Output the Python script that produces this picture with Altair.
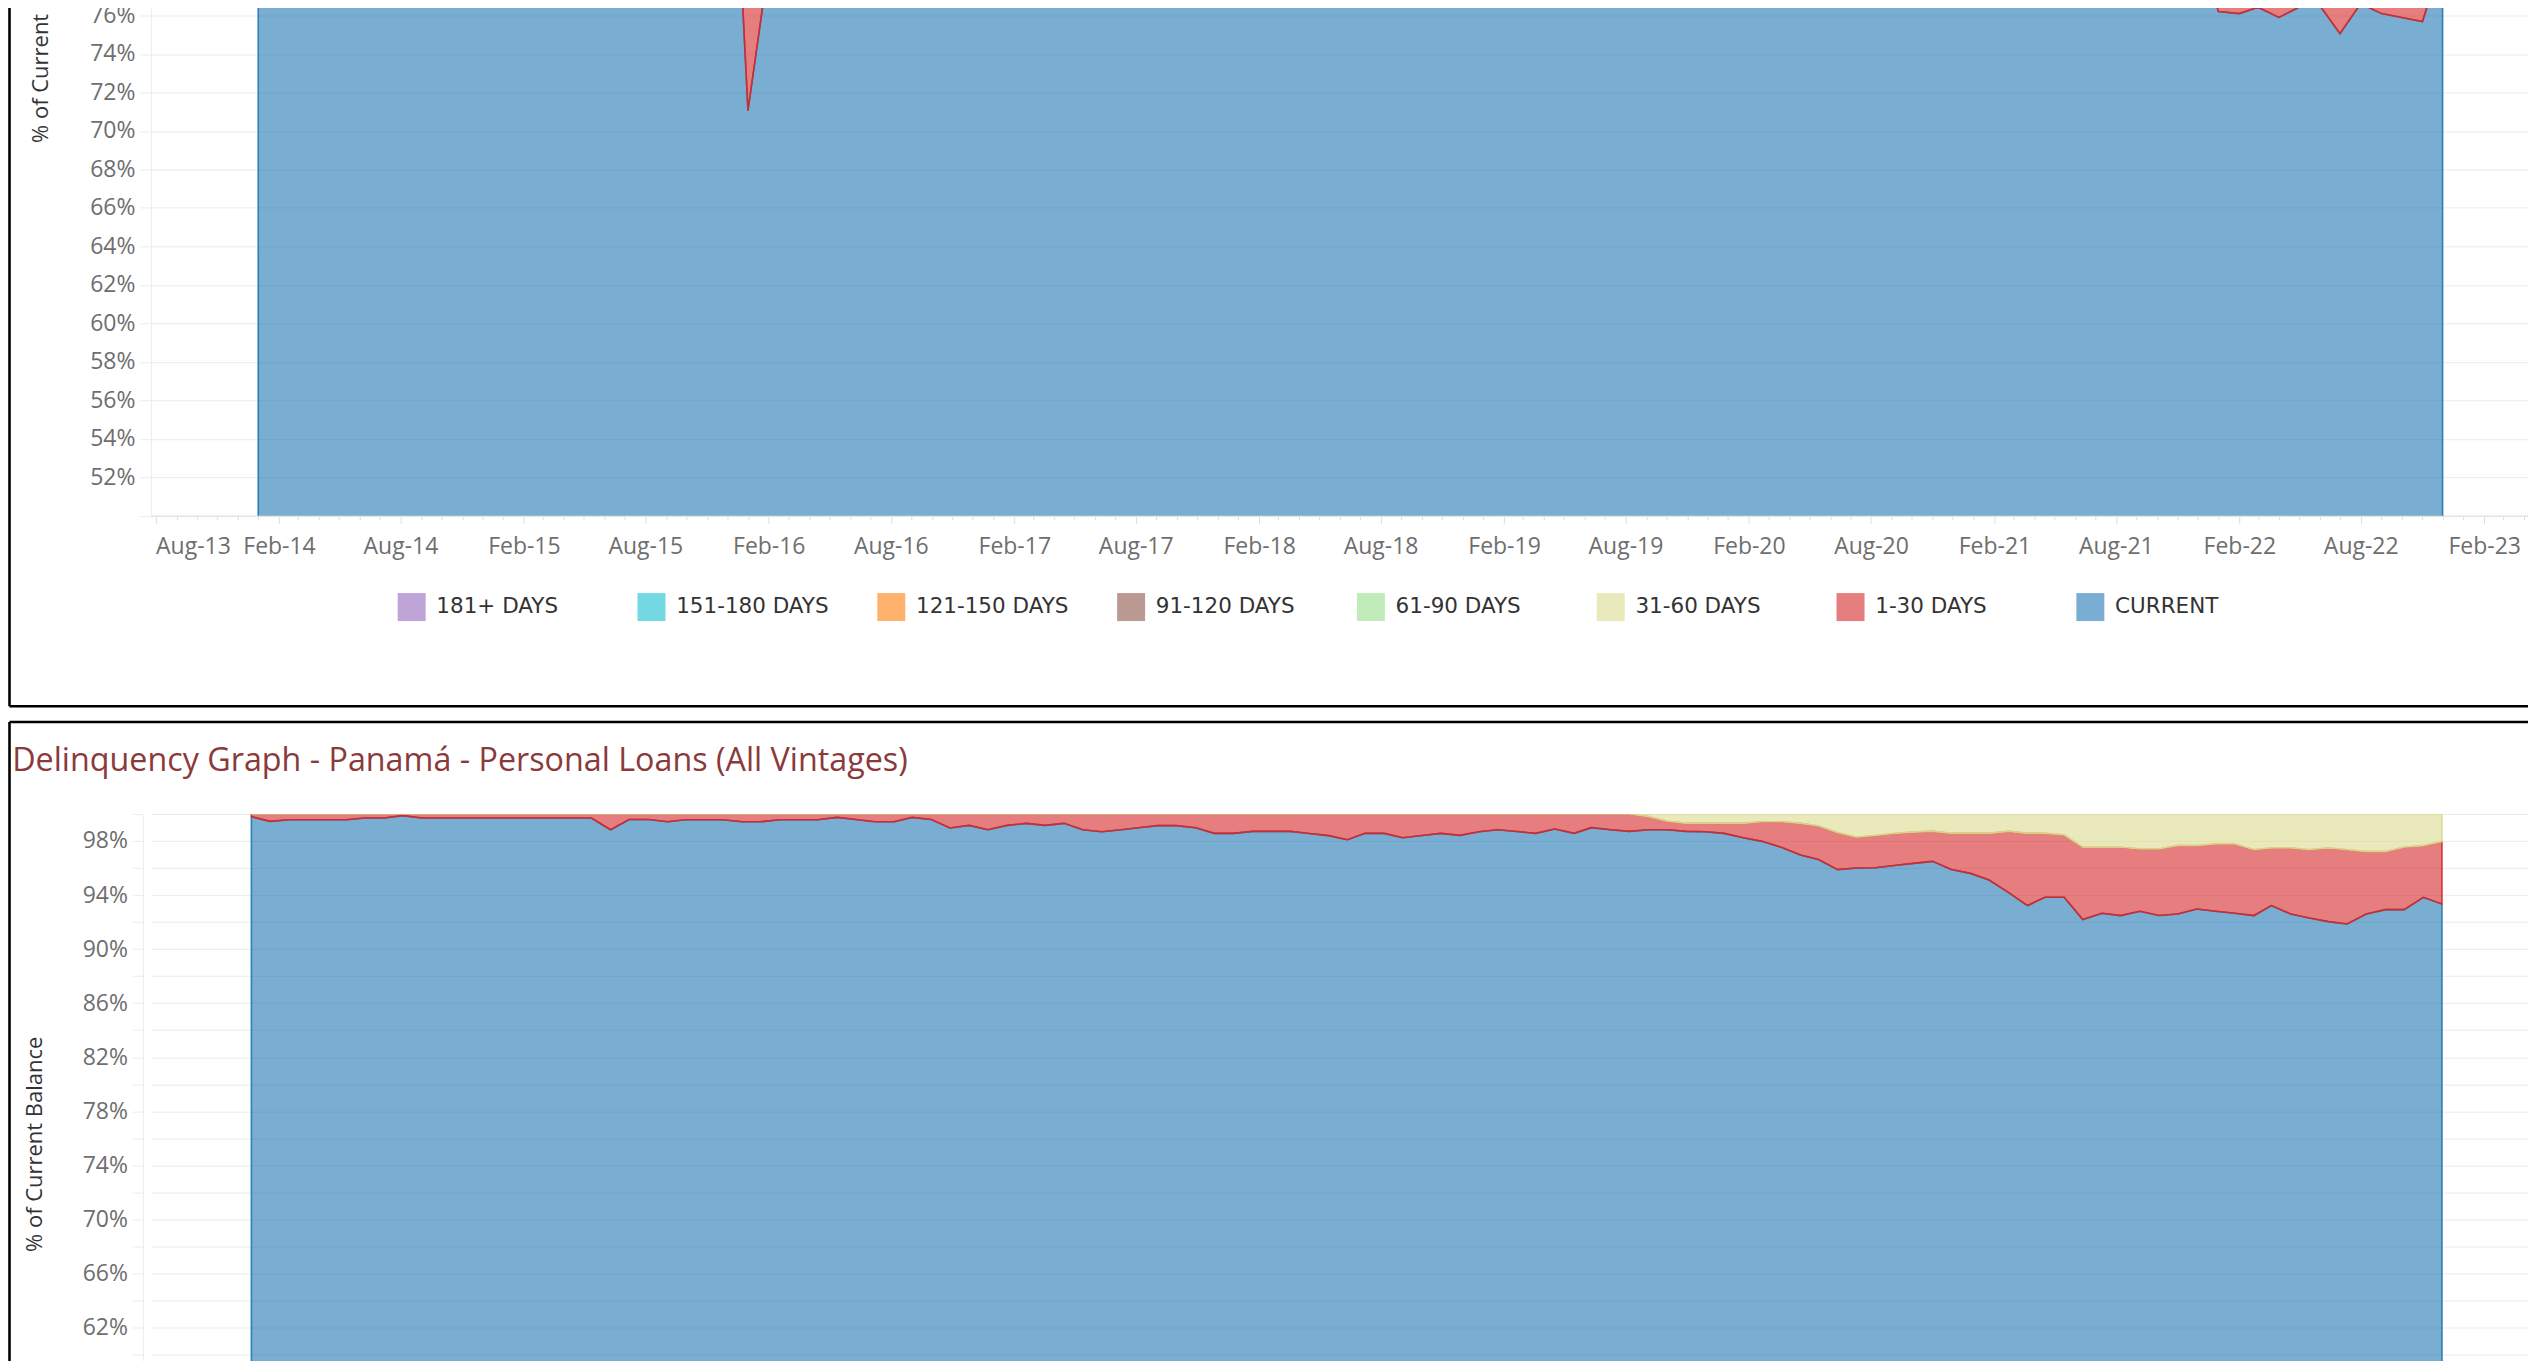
import altair as alt
import pandas as pd

# ---------------- data ----------------
SERIES = ["181+ DAYS", "151-180 DAYS", "121-150 DAYS", "91-120 DAYS",
          "61-90 DAYS", "31-60 DAYS", "1-30 DAYS", "CURRENT"]
COLORS = ["#9467bd", "#17becf", "#ff7f0e", "#8c564b",
          "#98df8a", "#dbdb8d", "#d62728", "#1f77b4"]

TITLE = "Delinquency Graph - Panamá - Personal Loans (All Vintages)"
Y_TITLE = "% of Current Balance"

# upper panel: monthly Jan-2014 .. Dec-2022 (values above ~77% are off-screen, estimated)
TOP_FIRST_MONTH = "2014-01-01"
top_current = [
    96.5, 96.8, 96.2, 96.9, 97.1, 96.7, 96.4, 96.8, 96.3, 95.9, 96.2, 95.8,
    95.5, 95.9, 95.2, 94.8, 95.1, 94.6, 94.2, 94.7, 93.9, 93.5, 93.1, 92.7,
    71.05, 78.7, 86.5, 88.2, 89.0, 89.4, 88.7, 89.1, 88.5, 88.0, 88.3, 87.6,
    87.9, 87.2, 86.8, 87.3, 86.9, 86.4, 86.8, 86.1, 85.7, 86.0, 85.4, 85.8,
    85.1, 84.8, 85.2, 84.5, 84.9, 84.2, 84.6, 84.0, 83.7, 84.1, 83.5, 83.9,
    83.2, 83.6, 82.9, 83.3, 82.7, 83.0, 82.4, 82.8, 82.1, 82.5, 81.9, 82.3,
    81.7, 82.0, 81.4, 80.9, 81.3, 80.8, 81.1, 80.5, 80.9, 80.3, 80.6, 80.1,
    80.4, 79.9, 80.2, 79.7, 80.0, 79.5, 79.8, 79.3, 79.6, 79.1, 79.5, 79.4,
    76.21, 76.10, 76.43, 75.90, 76.43, 76.52, 75.06, 76.62, 76.10, 75.90, 75.69, 79.0,
]
top_upper_1_30 = [
    98.8, 99.0, 98.7, 99.1, 99.2, 98.9, 98.7, 99.0, 98.6, 98.4, 98.6, 98.3,
    98.2, 98.4, 98.0, 97.8, 98.0, 97.7, 97.5, 97.8, 97.3, 97.1, 96.9, 96.6,
    95.8, 94.9, 95.6, 96.0, 96.2, 96.3, 95.9, 96.1, 95.8, 95.5, 95.7, 95.3,
    95.4, 95.0, 94.8, 95.1, 94.9, 94.6, 94.8, 94.4, 94.2, 94.4, 94.0, 94.3,
    93.9, 93.7, 94.0, 93.6, 93.8, 93.4, 93.6, 93.2, 93.0, 93.3, 92.9, 93.1,
    92.7, 93.0, 92.5, 92.8, 92.4, 92.6, 92.2, 92.5, 92.0, 92.3, 91.8, 92.1,
    91.6, 91.9, 91.4, 91.0, 91.3, 90.9, 91.1, 90.7, 91.0, 90.5, 90.8, 90.4,
    90.6, 90.2, 90.4, 90.0, 90.3, 89.8, 90.1, 89.7, 89.9, 89.5, 89.8, 89.6,
    88.4, 88.2, 88.6, 88.0, 88.5, 88.7, 87.5, 88.8, 88.3, 88.1, 87.9, 90.2,
]

# lower panel: Panamá personal loans, monthly points
BOTTOM_FIRST_MONTH = "2013-04-01"
bottom_current = [
    99.79, 99.45, 99.57, 99.57, 99.57, 99.57, 99.70, 99.70, 99.87, 99.70,
    99.70, 99.70, 99.70, 99.70, 99.70, 99.70, 99.70, 99.70, 99.70, 98.83,
    99.59, 99.59, 99.42, 99.57, 99.57, 99.57, 99.42, 99.42, 99.57, 99.57,
    99.57, 99.74, 99.59, 99.42, 99.42, 99.74, 99.59, 98.96, 99.15, 98.83,
    99.15, 99.30, 99.15, 99.30, 98.83, 98.68, 98.83, 98.98, 99.13, 99.13,
    98.98, 98.56, 98.56, 98.71, 98.71, 98.71, 98.55, 98.39, 98.09, 98.56,
    98.56, 98.24, 98.40, 98.56, 98.41, 98.68, 98.83, 98.70, 98.56, 98.88,
    98.56, 98.98, 98.83, 98.71, 98.83, 98.83, 98.71, 98.68, 98.56, 98.24,
    97.97, 97.53, 96.96, 96.62, 95.88, 96.00, 96.02, 96.18, 96.34, 96.49,
    95.88, 95.60, 95.11, 94.20, 93.22, 93.83, 93.83, 92.18, 92.65, 92.48,
    92.80, 92.48, 92.60, 92.97, 92.80, 92.65, 92.48, 93.22, 92.60, 92.30,
    92.03, 91.86, 92.60, 92.92, 92.92, 93.83, 93.34,
]
bottom_upper_1_30 = [100.0] * 74 + [
    99.80, 99.45, 99.30, 99.30, 99.30, 99.30, 99.42, 99.42, 99.30, 99.10,
    98.60, 98.27, 98.40, 98.55, 98.65, 98.71, 98.56, 98.56, 98.56, 98.71,
    98.56, 98.56, 98.44, 97.53, 97.53, 97.53, 97.40, 97.40, 97.65, 97.65,
    97.77, 97.77, 97.35, 97.48, 97.48, 97.35, 97.48, 97.35, 97.21, 97.21,
    97.53, 97.65, 97.95,
]

DRAW_ORDER = ["CURRENT", "1-30 DAYS", "31-60 DAYS"]


def band_frame(first, current, upper):
    dates = pd.date_range(first, periods=len(current), freq="MS").strftime("%Y-%m-%d")
    rows = []
    for d, c, u in zip(dates, current, upper):
        rows.append({"date": d, "series": "CURRENT", "lo": 0.0, "hi": c})
        rows.append({"date": d, "series": "1-30 DAYS", "lo": c, "hi": u})
        rows.append({"date": d, "series": "31-60 DAYS", "lo": u, "hi": 100.0})
    return pd.DataFrame(rows)


top_df = band_frame(TOP_FIRST_MONTH, top_current, top_upper_1_30)
bottom_df = band_frame(BOTTOM_FIRST_MONTH, bottom_current, bottom_upper_1_30)

# ---------------- style ----------------
LABEL_FONT = "Open Sans"
LABEL_COLOR = "#6e6e6e"
GRID = "#ebebeb"
W = 2409
TOP_H = 962.5
BOT_H = 660.3
BORDER_X = -141.5

color_scale = alt.Scale(domain=SERIES, range=COLORS)

legend = alt.Legend(
    orient="none", legendX=247, legendY=1040, direction="horizontal", columns=8,
    gridAlign="all", columnPadding=48, symbolType="square", symbolSize=784,
    symbolOpacity=0.6, symbolStrokeWidth=0, labelFont="DejaVu Sans",
    labelFontSize=21.5, labelColor="#333333", labelOffset=10.7, labelLimit=400,
    padding=0,
)

top_x_axis = alt.Axis(
    tickCount={"interval": "month", "step": 1},
    labelExpr="(utcmonth(datum.value) == 1 || utcmonth(datum.value) == 7) ? utcFormat(datum.value, '%b-%y') : ''",
    tickSize={"condition": {"test": "utcmonth(datum.value) == 1 || utcmonth(datum.value) == 7", "value": 8}, "value": 4},
    tickColor="#dddddd", tickWidth=1, domainColor="#e4e4e4", domainWidth=1.5,
    labelFont=LABEL_FONT, labelFontSize=23, labelColor=LABEL_COLOR,
    labelPadding=12, labelFlush=10, labelOverlap=False, grid=False, title=None,
)

top_y_axis = alt.Axis(
    values=list(range(50, 101, 2)),
    labelExpr="datum.value == 50 ? '' : datum.value + '%'",
    grid=True, gridColor=GRID, gridWidth=1,
    domainColor="#ececec", domainWidth=1,
    tickSize=11, tickColor=GRID, tickWidth=1,
    labelPadding=5, labelFont=LABEL_FONT, labelFontSize=23, labelColor=LABEL_COLOR,
    titleFont=LABEL_FONT, titleFontSize=22, titleColor="#333333",
    titleFontWeight="normal", titleX=-103, titleBaseline="alphabetic",
)

bottom_y_axis = alt.Axis(
    values=list(range(52, 101, 2)),
    labelExpr="datum.value % 4 == 2 ? datum.value + '%' : ''",
    grid=True, gridColor=GRID, gridWidth=1, offset=8,
    domainColor="#ececec", domainWidth=1,
    tickSize=10.5, tickColor=GRID, tickWidth=1,
    labelPadding=5, labelFont=LABEL_FONT, labelFontSize=23, labelColor=LABEL_COLOR,
    titleFont=LABEL_FONT, titleFontSize=22, titleColor="#333333",
    titleFontWeight="normal", titleX=-101, titleBaseline="alphabetic",
)

top_x = alt.X(
    "date:T", axis=top_x_axis,
    scale=alt.Scale(type="utc", domain=[
        alt.DateTime(year=2013, month=7, date=25, utc=True),
        alt.DateTime(year=2023, month=5, date=22, utc=True)]),
)
bottom_x = alt.X(
    "date:T", axis=None,
    scale=alt.Scale(type="utc", domain=[
        alt.DateTime(year=2012, month=10, date=21, utc=True),
        alt.DateTime(year=2023, month=6, date=6, utc=True)]),
)
top_y = alt.Y("hi:Q", title=Y_TITLE, axis=top_y_axis,
              scale=alt.Scale(domain=[50, 100], nice=False, zero=False))
bottom_y = alt.Y("hi:Q", title=Y_TITLE, axis=bottom_y_axis,
                 scale=alt.Scale(domain=[51.2, 100], nice=False, zero=False))


def area_layers(x_enc, y_enc, show_legend):
    layers = []
    for i, s in enumerate(DRAW_ORDER):
        if show_legend and i == 0:
            col = alt.Color("series:N", scale=color_scale, legend=legend, title=None)
        elif show_legend:
            col = alt.Color("series:N", scale=color_scale, title=None)
        else:
            col = alt.Color("series:N", scale=color_scale, legend=None)
        layers.append(
            alt.Chart()
            .transform_filter(alt.datum.series == s)
            .mark_area(fillOpacity=0.6, strokeWidth=1.6, strokeOpacity=0.9,
                       clip=True, interpolate="linear")
            .encode(
                x=x_enc, y=y_enc, y2="lo:Q", color=col,
                stroke=alt.Stroke("series:N", scale=color_scale, legend=None),
            )
        )
    return layers


dummy = alt.Data(values=[{"k": 1}])


def rule(**enc):
    return alt.Chart(dummy).mark_rule(color="#000000", strokeWidth=2.6).encode(**enc)


top = alt.layer(
    *area_layers(top_x, top_y, True),
    rule(x=alt.value(BORDER_X), y=alt.value(-30), y2=alt.value(1153.3)),
    rule(x=alt.value(BORDER_X), x2=alt.value(W), y=alt.value(1153.3)),
    data=top_df,
).properties(width=W, height=TOP_H)

bottom = alt.layer(
    *area_layers(bottom_x, bottom_y, False),
    rule(x=alt.value(BORDER_X), y=alt.value(-91.9), y2=alt.value(700)),
    rule(x=alt.value(BORDER_X), x2=alt.value(W), y=alt.value(-91.9)),
    data=bottom_df,
).properties(
    width=W, height=BOT_H,
    title=alt.TitleParams(
        TITLE, anchor="start", frame="bounds", font="Open Sans", fontSize=32.3,
        color="#8a3a3a", fontWeight="normal", baseline="alphabetic",
        offset=0, dx=4, dy=82.4,
    ),
)

chart = (
    alt.vconcat(top, bottom, spacing=12)
    .resolve_scale(x="independent", y="independent", color="independent", stroke="independent")
    .properties(padding={"top": -487, "left": 0, "right": -32, "bottom": -155})
    .configure_view(stroke=None)
)

chart.save("out.html", embed_options={"renderer": "svg", "actions": False})
